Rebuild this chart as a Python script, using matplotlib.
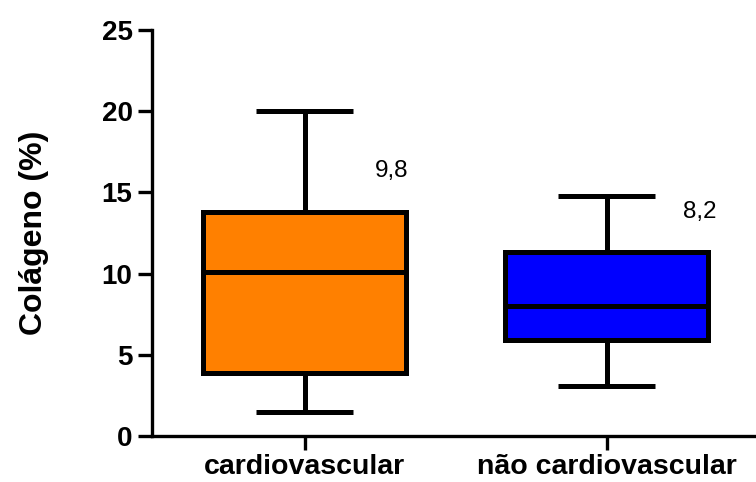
import matplotlib
matplotlib.use("Agg")
import matplotlib.pyplot as plt

# Group names and box-plot statistics (Colágeno %)
groups = ["cardiovascular", "não cardiovascular"]
whisker_low = [1.5, 3.1]
q1 = [3.9, 5.9]
median = [10.1, 8.0]
q3 = [13.8, 11.3]
whisker_high = [20.0, 14.8]
mean_labels = ["9,8", "8,2"]
mean_label_y = [16.3, 13.8]
box_colors = ["#FF8000", "#0000FF"]
yticks = [0, 5, 10, 15, 20, 25]

plt.rcParams["font.family"] = ["Liberation Sans", "DejaVu Sans"]

fig = plt.figure(figsize=(7.56, 4.82), dpi=100)
ax = fig.add_axes([152 / 756, 46 / 482, 604 / 756, 406 / 482])

stats = []
for i, name in enumerate(groups):
    stats.append(dict(label=name, whislo=whisker_low[i], q1=q1[i], med=median[i],
                      q3=q3[i], whishi=whisker_high[i], fliers=[]))

positions = list(range(len(groups)))
lw = 3.6
bp = ax.bxp(stats, positions=positions, widths=0.673, capwidths=0.323,
            patch_artist=True, showfliers=False,
            boxprops=dict(linewidth=lw, edgecolor="black"),
            medianprops=dict(linewidth=lw, color="black"),
            whiskerprops=dict(linewidth=lw, color="black", solid_capstyle="butt"),
            capprops=dict(linewidth=lw, color="black", solid_capstyle="butt"))
for patch, c in zip(bp["boxes"], box_colors):
    patch.set_facecolor(c)
    patch.set_joinstyle("miter")

# Mean values written beside each box
label_x_offset = [0.29, 0.31]
for i, txt in enumerate(mean_labels):
    ax.text(positions[i] + label_x_offset[i], mean_label_y[i], txt,
            ha="center", va="center", fontsize=17.5, color="black")

ax.set_xlim(-0.505, 1.495)
ax.set_ylim(0, 25)
ax.set_yticks(yticks)
ax.set_yticklabels([str(t) for t in yticks])
ax.set_xticks(positions)
ax.set_xticklabels(groups)

for side in ("top", "right"):
    ax.spines[side].set_visible(False)
for side in ("left", "bottom"):
    ax.spines[side].set_linewidth(2.4)

ax.tick_params(axis="both", direction="out", length=10, width=2.4,
               labelsize=20, pad=4)
for lab in ax.get_xticklabels() + ax.get_yticklabels():
    lab.set_fontweight("bold")
ax.tick_params(axis="x", pad=3, labelsize=20.5)

ax.set_ylabel("Colágeno (%)", fontsize=23, fontweight="bold", labelpad=38)

fig.savefig("out.png", dpi=100)
